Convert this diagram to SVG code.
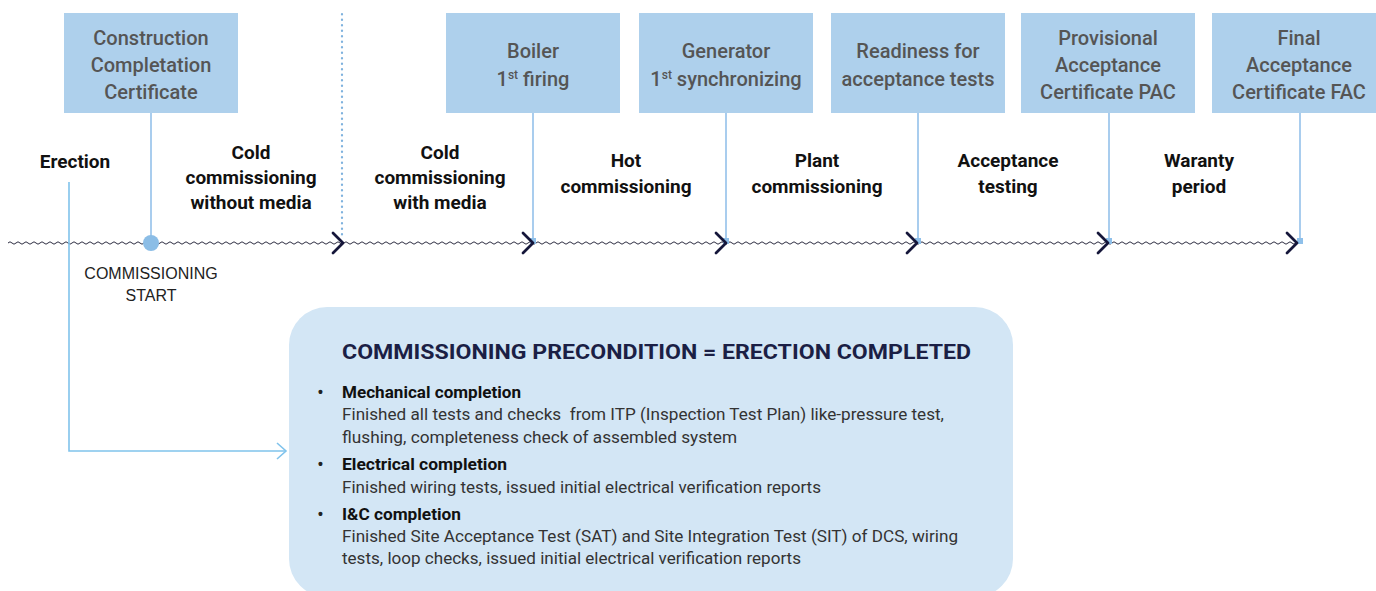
<svg xmlns="http://www.w3.org/2000/svg" width="1376" height="591" viewBox="0 0 1376 591">
<style>
.box{fill:#aed0ec}
.bt{font-family:Roboto,"Liberation Sans",sans-serif;font-weight:500;font-size:20px;fill:#555;text-anchor:middle}
.sup{font-size:12px}
.lbl{font-family:Roboto,"Liberation Sans",sans-serif;font-weight:700;font-size:19px;fill:#111;text-anchor:middle}
.vl{stroke:#a9cdee;stroke-width:2;fill:none}
.chev{stroke:#15163a;stroke-width:2.8;fill:none;stroke-linecap:round;stroke-linejoin:round}
.sq{fill:#8fc0ea}
.start{font-family:"Liberation Sans",Arial,sans-serif;font-size:16px;fill:#222;text-anchor:middle}
.title{font-family:Roboto,"Liberation Sans",sans-serif;font-weight:700;font-size:21px;fill:#1b1f45}
.head{font-family:Roboto,"Liberation Sans",sans-serif;font-weight:700;font-size:17px;fill:#111}
.body{font-family:Roboto,"Liberation Sans",sans-serif;font-size:17px;fill:#333}
.bul{font-family:"Liberation Sans",sans-serif;font-weight:700;font-size:14px;fill:#222}
</style>
<defs>
<pattern id="wave" patternUnits="userSpaceOnUse" x="0" y="240" width="8" height="6">
<path d="M0 3 Q2 0.6 4 3 T8 3" fill="none" stroke="#2b2b40" stroke-width="1"/>
</pattern>
</defs>
<rect width="1376" height="591" fill="#ffffff"/>

<g id="timeline">
<rect x="8" y="240" width="1292" height="6" fill="url(#wave)"/>
<line x1="342" y1="14" x2="342" y2="238" stroke="#7fb2de" stroke-width="2.2" stroke-dasharray="0.5 5" stroke-linecap="round"/>
</g>

<g id="connectors">
<line class="vl" x1="151" y1="113" x2="151" y2="243"/>
<line class="vl" x1="533" y1="113" x2="533" y2="241"/>
<line class="vl" x1="726" y1="113" x2="726" y2="241"/>
<line class="vl" x1="918" y1="113" x2="918" y2="241"/>
<line class="vl" x1="1109" y1="113" x2="1109" y2="241"/>
<line class="vl" x1="1300" y1="113" x2="1300" y2="241"/>
<circle cx="151" cy="243" r="8" fill="#8bbde6"/>
<rect class="sq" x="530" y="238" width="6" height="6"/>
<rect class="sq" x="723" y="238" width="6" height="6"/>
<rect class="sq" x="915" y="238" width="6" height="6"/>
<rect class="sq" x="1106" y="238" width="6" height="6"/>
<rect class="sq" x="1297" y="238" width="6" height="6"/>
<path class="chev" d="M333 233 L343 243 L333 253"/>
<path class="chev" d="M523 233 L533 243 L523 253"/>
<path class="chev" d="M716 233 L726 243 L716 253"/>
<path class="chev" d="M907 233 L917 243 L907 253"/>
<path class="chev" d="M1098 233 L1108 243 L1098 253"/>
<path class="chev" d="M1287 233 L1297 243 L1287 253"/>
<path d="M69 182 V451 H286" fill="none" stroke="#80c3ec" stroke-width="1.6"/>
<path d="M277 443 L286 451 L277 459" fill="none" stroke="#80c3ec" stroke-width="1.6"/>
</g>

<g id="node-ccc">
<rect class="box" x="64" y="13" width="174" height="100"/>
<text class="bt" x="151" y="45">Construction</text>
<text class="bt" x="151" y="72">Completation</text>
<text class="bt" x="151" y="99">Certificate</text>
</g>
<g id="node-boiler">
<rect class="box" x="446" y="13" width="174" height="100"/>
<text class="bt" x="533" y="58">Boiler</text>
<text class="bt" x="533" y="86">1<tspan class="sup" dy="-7">st</tspan><tspan dy="7"> firing</tspan></text>
</g>
<g id="node-generator">
<rect class="box" x="639" y="13" width="174" height="100"/>
<text class="bt" x="726" y="58">Generator</text>
<text class="bt" x="726" y="86">1<tspan class="sup" dy="-7">st</tspan><tspan dy="7"> synchronizing</tspan></text>
</g>
<g id="node-readiness">
<rect class="box" x="831" y="13" width="174" height="100"/>
<text class="bt" x="918" y="58">Readiness for</text>
<text class="bt" x="918" y="86">acceptance tests</text>
</g>
<g id="node-pac">
<rect class="box" x="1021" y="13" width="174" height="100"/>
<text class="bt" x="1108" y="45">Provisional</text>
<text class="bt" x="1108" y="72">Acceptance</text>
<text class="bt" x="1108" y="99">Certificate PAC</text>
</g>
<g id="node-fac">
<rect class="box" x="1212" y="13" width="174" height="100"/>
<text class="bt" x="1299" y="45">Final</text>
<text class="bt" x="1299" y="72">Acceptance</text>
<text class="bt" x="1299" y="99">Certificate FAC</text>
</g>

<g id="phase-labels">
<text class="lbl" x="75" y="168">Erection</text>
<text class="lbl" x="251" y="159">Cold</text>
<text class="lbl" x="251" y="184">commissioning</text>
<text class="lbl" x="251" y="209">without media</text>
<text class="lbl" x="440" y="159">Cold</text>
<text class="lbl" x="440" y="184">commissioning</text>
<text class="lbl" x="440" y="209">with media</text>
<text class="lbl" x="626" y="167">Hot</text>
<text class="lbl" x="626" y="193">commissioning</text>
<text class="lbl" x="817" y="167">Plant</text>
<text class="lbl" x="817" y="193">commissioning</text>
<text class="lbl" x="1008" y="167">Acceptance</text>
<text class="lbl" x="1008" y="193">testing</text>
<text class="lbl" x="1199" y="167">Waranty</text>
<text class="lbl" x="1199" y="193">period</text>
</g>

<g id="node-start">
<text class="start" x="151" y="279">COMMISSIONING</text>
<text class="start" x="151" y="301">START</text>
</g>

<g id="node-precondition">
<rect x="289" y="307" width="724" height="290" rx="38" ry="38" fill="#d3e6f5"/>
<text class="title" x="342" y="359" textLength="629" lengthAdjust="spacingAndGlyphs">COMMISSIONING PRECONDITION = ERECTION COMPLETED</text>
<text class="bul" x="318" y="397">•</text>
<text class="head" x="342" y="398" textLength="179" lengthAdjust="spacingAndGlyphs">Mechanical completion</text>
<text class="body" x="342" y="420" textLength="602" lengthAdjust="spacingAndGlyphs" xml:space="preserve">Finished all tests and checks  from ITP (Inspection Test Plan) like-pressure test,</text>
<text class="body" x="342" y="443" textLength="395" lengthAdjust="spacingAndGlyphs">flushing, completeness check of assembled system</text>
<text class="bul" x="318" y="469">•</text>
<text class="head" x="342" y="470" textLength="165" lengthAdjust="spacingAndGlyphs">Electrical completion</text>
<text class="body" x="342" y="493" textLength="479" lengthAdjust="spacingAndGlyphs">Finished wiring tests, issued initial electrical verification reports</text>
<text class="bul" x="318" y="519">•</text>
<text class="head" x="342" y="520" textLength="119" lengthAdjust="spacingAndGlyphs">I&amp;C completion</text>
<text class="body" x="342" y="542" textLength="616" lengthAdjust="spacingAndGlyphs">Finished Site Acceptance Test (SAT) and Site Integration Test (SIT) of DCS, wiring</text>
<text class="body" x="342" y="564" textLength="459" lengthAdjust="spacingAndGlyphs">tests, loop checks, issued initial electrical verification reports</text>
</g>
</svg>
